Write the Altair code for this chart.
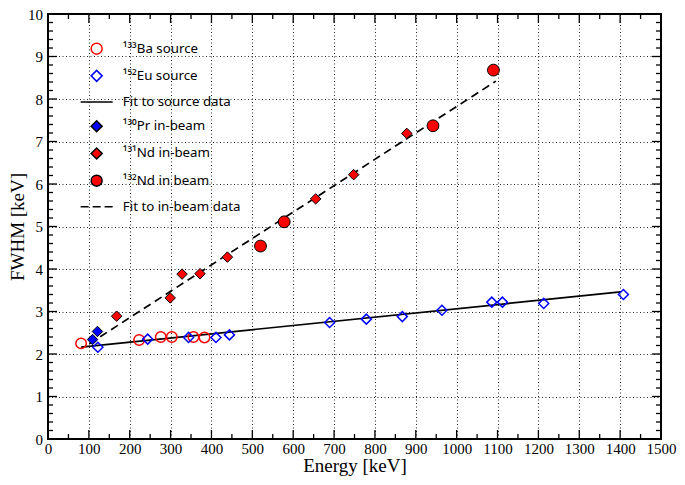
import altair as alt
import pandas as pd

# ---------------- data ----------------
ba_energy = [81, 223, 276, 303, 356, 383]
ba_fwhm = [2.25, 2.33, 2.40, 2.40, 2.40, 2.39]

eu_energy = [122, 244, 344, 411, 444, 689, 779, 867, 964, 1086, 1112, 1213, 1408]
eu_fwhm = [2.16, 2.35, 2.39, 2.39, 2.45, 2.74, 2.82, 2.88, 3.03, 3.22, 3.22, 3.19, 3.40]

pr_energy = [109, 121]
pr_fwhm = [2.34, 2.53]

nd131_energy = [168, 299, 328, 372, 439, 655, 748, 878]
nd131_fwhm = [2.89, 3.32, 3.88, 3.89, 4.28, 5.65, 6.22, 7.19]

nd132_energy = [520, 578, 942, 1090]
nd132_fwhm = [4.54, 5.11, 7.37, 8.68]

src_fit_energy = [81, 1401]
src_fit_fwhm = [2.16, 3.46]

beam_fit_energy = [101, 1096]
beam_fit_fwhm = [2.24, 8.42]

series_labels = [
    "¹³³Ba source",
    "¹⁵²Eu source",
    "Fit to source data",
    "¹³⁰Pr in-beam",
    "¹³¹Nd in-beam",
    "¹³²Nd in beam",
    "Fit to in-beam data",
]

x_major = [0, 100, 200, 300, 400, 500, 600, 700, 800, 900, 1000, 1100, 1200, 1300, 1400, 1500]
x_minor = [50, 150, 250, 350, 450, 550, 650, 750, 850, 950, 1050, 1150, 1250, 1350, 1450]
y_major = [0, 1, 2, 3, 4, 5, 6, 7, 8, 9, 10]
y_minor = [v / 10 for v in range(0, 101, 2) if v % 10 != 0]

# ---------------- styling ----------------
W, H = 613, 425
SERIF = "Liberation Serif, Times New Roman, serif"
SANS = "Noto Sans"

SOLID = "M-2.91,0H2.91"
DASHED = "M-2.91,0H-1.45M-0.73,0H0.73M1.45,0H2.91"

xs = alt.Scale(domain=[0, 1500], nice=False, zero=False)
ys = alt.Scale(domain=[0, 10], nice=False, zero=False)

shape_scale = alt.Scale(domain=series_labels,
                        range=["circle", "diamond", SOLID, "diamond", "diamond", "circle", DASHED])
stroke_scale = alt.Scale(domain=series_labels,
                         range=["#ff0000", "#0000ff", "#000000", "#000000", "#000000", "#000000", "#000000"])
fill_scale = alt.Scale(domain=series_labels,
                       range=["transparent", "transparent", "transparent", "#0000ff", "#ff0000", "#ff0000", "transparent"])

leg = alt.Legend(title=None, orient="none", legendX=42, legendY=28, padding=0,
                 labelFont=SANS, labelFontSize=13.3, labelColor="black", labelOffset=19.5,
                 rowPadding=9.2, symbolSize=121, symbolStrokeWidth=1.5, symbolOpacity=1)

x_axis = alt.Axis(values=x_major, format="d", grid=True, ticks=False, domain=False,
                  labelFont=SERIF, labelFontSize=15, labelColor="black",
                  labelPadding=2, labelFlush=False, title="Energy [keV]",
                  titleFont=SERIF, titleFontSize=19, titleFontWeight="normal",
                  titleX=W / 2, titleY=17, titleBaseline="top")
y_axis = alt.Axis(values=y_major, format="d", grid=True, ticks=False, domain=False,
                  labelFont=SERIF, labelFontSize=15, labelColor="black",
                  labelPadding=5.5, labelFlush=False, title="FWHM [keV]",
                  titleFont=SERIF, titleFontSize=19, titleFontWeight="normal",
                  titleX=-21, titleY=H / 2, titleBaseline="bottom", titleAngle=270)


def points(energy, fwhm, label, size, sw):
    df = pd.DataFrame({"E": energy, "F": fwhm, "series": label})
    return alt.Chart(df).mark_point(filled=True, size=size, strokeWidth=sw, opacity=1).encode(
        x=alt.X("E:Q", scale=xs, axis=x_axis),
        y=alt.Y("F:Q", scale=ys, axis=y_axis),
        shape=alt.Shape("series:N", scale=shape_scale, legend=leg),
        stroke=alt.Stroke("series:N", scale=stroke_scale, legend=leg),
        fill=alt.Fill("series:N", scale=fill_scale, legend=leg),
    )


def fit(energy, fwhm, label, dashed):
    df = pd.DataFrame({"E": energy, "F": fwhm, "series": label})
    if dashed:
        m = alt.Chart(df).mark_line(strokeWidth=1.7, strokeDash=[8, 5])
    else:
        m = alt.Chart(df).mark_line(strokeWidth=1.7)
    return m.encode(
        x=alt.X("E:Q", scale=xs, axis=x_axis),
        y=alt.Y("F:Q", scale=ys, axis=y_axis),
        stroke=alt.Stroke("series:N", scale=stroke_scale, legend=leg),
    )


def xticks(values, length, top):
    df = pd.DataFrame({"E": values})
    y0, y1 = (0, length) if top else (H, H - length)
    return alt.Chart(df).mark_rule(color="black", strokeWidth=1.3).encode(
        x=alt.X("E:Q", scale=xs, axis=x_axis), y=alt.value(y0), y2=alt.value(y1))


def yticks(values, length, right):
    df = pd.DataFrame({"F": values})
    x0, x1 = (W, W - length) if right else (0, length)
    return alt.Chart(df).mark_rule(color="black", strokeWidth=1.3).encode(
        y=alt.Y("F:Q", scale=ys, axis=y_axis), x=alt.value(x0), x2=alt.value(x1))


layers = [
    fit(src_fit_energy, src_fit_fwhm, series_labels[2], False),
    fit(beam_fit_energy, beam_fit_fwhm, series_labels[6], True),
    points(ba_energy, ba_fwhm, series_labels[0], 110, 1.5),
    points(eu_energy, eu_fwhm, series_labels[1], 100, 1.5),
    points(pr_energy, pr_fwhm, series_labels[3], 110, 1),
    points(nd131_energy, nd131_fwhm, series_labels[4], 110, 1),
    points(nd132_energy, nd132_fwhm, series_labels[5], 140, 1),
    xticks(x_major, 9, False), xticks(x_minor, 5, False),
    xticks(x_major, 9, True), xticks(x_minor, 5, True),
    yticks(y_major, 9, False), yticks(y_minor, 5, False),
    yticks(y_major, 9, True), yticks(y_minor, 5, True),
]

chart = alt.layer(*layers).properties(
    width=W, height=H,
    background="white",
    autosize=alt.AutoSizeParams(type="none"),
    padding={"left": 40, "top": 6, "right": 16, "bottom": 38},
).configure_view(
    stroke="black", strokeWidth=2
).configure_axis(
    labelFont=SERIF, labelFontSize=15, labelColor="black",
    titleFont=SERIF, titleFontSize=19, titleFontWeight="normal", titleColor="black",
    gridColor="black", gridDash=[1, 2.5], gridWidth=1, gridOpacity=0.85,
)

chart.save("out.html", embed_options={"renderer": "svg", "actions": False})
